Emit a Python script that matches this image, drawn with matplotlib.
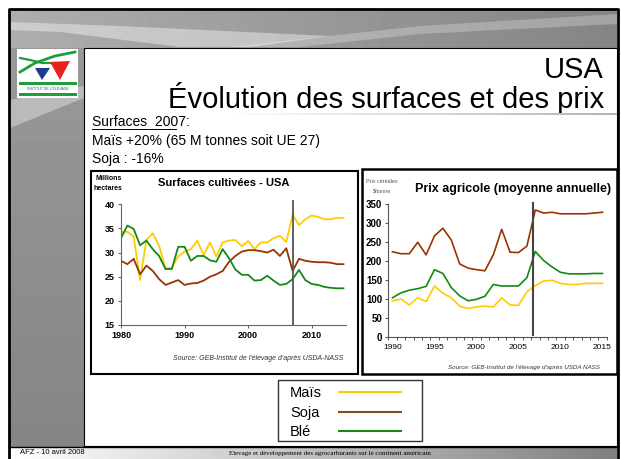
import matplotlib

matplotlib.use("Agg")
import matplotlib.pyplot as plt
import numpy as np
from matplotlib.patches import Polygon, Rectangle
from matplotlib.ticker import FixedLocator

plt.rcParams["font.family"] = ["Liberation Sans", "DejaVu Sans"]

W, H = 621, 459

# --- Surfaces cultivées (Mha) ---
area_years = list(range(1980, 2016))
area_mais = [34.3, 34.3, 33.3, 24.3, 32.6, 34.0, 31.4, 26.7, 26.9, 29.2,
             30.2, 30.7, 32.5, 29.5, 32.1, 29.2, 32.1, 32.5, 32.6, 31.3,
             32.4, 30.7, 32.1, 32.1, 33.0, 33.5, 32.2, 37.8, 35.7, 36.9,
             37.7, 37.4, 36.9, 36.9, 37.2, 37.2]
area_soja = [28.3, 27.6, 28.7, 25.5, 27.3, 26.2, 24.5, 23.3, 23.8, 24.3,
             23.3, 23.6, 23.7, 24.2, 25.0, 25.5, 26.2, 28.1, 29.3, 30.2,
             30.5, 30.5, 30.3, 30.0, 30.6, 29.3, 30.9, 26.2, 28.7, 28.3,
             28.1, 28.0, 28.0, 27.9, 27.6, 27.6]
area_ble = [33.0, 35.6, 34.9, 31.5, 32.5, 30.7, 29.3, 26.6, 26.6, 31.2,
            31.2, 28.3, 29.3, 29.3, 28.4, 28.1, 30.7, 28.8, 26.5, 25.4,
            25.4, 24.2, 24.3, 25.2, 24.2, 23.3, 23.5, 24.5, 26.4, 24.3,
            23.5, 23.3, 22.9, 22.7, 22.6, 22.6]

# --- Prix agricoles ($/t) ---
price_years = list(range(1990, 2016))
price_soja = [225, 220, 220, 250, 217, 267, 287, 256, 193, 182,
              178, 175, 217, 284, 224, 223, 240, 335, 327, 329,
              325, 325, 325, 325, 327, 329]
price_ble = [104, 117, 124, 128, 134, 178, 168, 131, 109, 96,
             100, 108, 139, 135, 135, 135, 157, 226, 202, 185,
             171, 167, 167, 167, 168, 168]
price_mais = [96, 101, 85, 104, 94, 135, 116, 104, 82, 76,
              80, 82, 80, 104, 85, 84, 120, 136, 148, 150,
              142, 139, 139, 142, 142, 142]

C_MAIS = "#FFCC00"
C_SOJA = "#993300"
C_BLE = "#138A13"


def box(x0, y0, x1, y1):
    return [x0 / W, 1 - y1 / H, (x1 - x0) / W, (y1 - y0) / H]


fig = plt.figure(figsize=(W / 100, H / 100), dpi=100)

# slide decoration
bg = fig.add_axes([0, 0, 1, 1])
bg.axis("off")
grad = np.linspace(0.68, 0.52, 200)[None, :] * np.ones((50, 1))
bg.imshow(grad, extent=(10, 617, 447, 10), cmap="gray", vmin=0, vmax=1,
          aspect="auto", zorder=0)
side = np.linspace(0.60, 0.52, 100)[:, None] * np.ones((1, 20))
bg.imshow(side, extent=(10, 84, 447, 48), cmap="gray", vmin=0, vmax=1,
          aspect="auto", zorder=0)
bg.add_patch(Polygon([(10, 22), (120, 26), (330, 36), (250, 47), (180, 47),
                      (60, 32), (10, 30)], closed=True, fc="white",
                     alpha=0.4, ec="none", zorder=1))
bg.add_patch(Polygon([(230, 47), (420, 26), (617, 14), (617, 24), (420, 34),
                      (300, 47)], closed=True, fc="white", alpha=0.25,
                     ec="none", zorder=1))
bg.add_patch(Polygon([(10, 100), (84, 86), (84, 98), (10, 128)], closed=True,
                     fc="white", alpha=0.35, ec="none", zorder=1))
bg.add_patch(Rectangle((84, 48), 533, 398, fc="white", ec="black", lw=0.8,
                       zorder=2))
foot = np.linspace(1.0, 0.5, 200)[None, :] * np.ones((5, 1))
bg.imshow(foot, extent=(10, 617, 459, 447), cmap="gray", vmin=0, vmax=1,
          aspect="auto", zorder=2)
bg.plot([9, 9, 618, 618], [459, 9, 9, 459], color="black", lw=2, zorder=3)
bg.plot([9, 618], [446.5, 446.5], color="black", lw=1, zorder=3)

# logo
bg.add_patch(Rectangle((17, 49), 61, 49, fc="white", ec="none", zorder=3))
bg.plot([20, 35, 55, 75], [72, 63, 56, 52], color="#1E9E3A", lw=2,
        zorder=4)
bg.plot([20, 30, 42, 52], [58, 60, 63, 63], color="#1E9E3A", lw=1.6,
        zorder=4)
bg.add_patch(Polygon([(35, 68), (50, 68), (42, 80)], closed=True,
                     fc="#1A3C8C", ec="none", zorder=4))
bg.add_patch(Polygon([(50, 62), (70, 61), (60, 80)], closed=True,
                     fc="#E8231E", ec="none", zorder=4))
bg.add_patch(Rectangle((19, 82), 58, 3, fc="#1E9E3A", ec="none", zorder=4))
bg.add_patch(Rectangle((19, 93), 58, 2.5, fc="#1E9E3A", ec="none", zorder=4))
bg.text(48, 89, "INSTITUT DE L'ÉLEVAGE", fontsize=2.6, ha="center",
        va="center", color="#2A5A9A", zorder=4)

bg.set_xlim(0, W)
bg.set_ylim(H, 0)

# titles and text
bg.text(603, 70, "USA", fontsize=21, ha="right", va="center", zorder=5)
bg.text(604, 98, "Évolution des surfaces et des prix", fontsize=21,
        ha="right", va="center", zorder=5)
line = np.linspace(1.0, 0.7, 200)[None, :] * np.ones((2, 1))
bg.imshow(line, extent=(225, 617, 115.5, 113.5), cmap="gray", vmin=0, vmax=1,
          aspect="auto", zorder=5)
bg.text(92, 122, "Surfaces  2007:", fontsize=10, va="center", zorder=5)
bg.plot([92, 176], [129, 129], color="black", lw=0.7, zorder=5)
bg.text(92, 141, "Maïs +20% (65 M tonnes soit UE 27)", fontsize=10,
        va="center", zorder=5)
bg.text(92, 159, "Soja : -16%", fontsize=10, va="center", zorder=5)

# chart frames
bg.add_patch(Rectangle((91, 170.5), 267, 203, fc="white", ec="black", lw=1.5,
                       zorder=5))
bg.add_patch(Rectangle((362, 168.5), 254.5, 205.5, fc="white", ec="black",
                       lw=1.8, zorder=5))

# footer
bg.text(20, 453, "AFZ - 10 avril 2008", fontsize=5.5, va="center", zorder=5)
bg.text(330, 453,
        "Elevage et développement des agrocarburants sur le continent américain",
        fontsize=5, va="center", ha="center", family="Liberation Serif",
        zorder=5)

# legend box
bg.add_patch(Rectangle((278, 380), 144, 61, fc="white", ec="#333333", lw=1,
                       zorder=5))
for label, col, yy in [("Maïs", C_MAIS, 393), ("Soja", "#8B4A1C", 413),
                       ("Blé", C_BLE, 432)]:
    bg.text(290, yy, label, fontsize=10.5, va="center", zorder=6)
    bg.plot([339, 401], [yy - 1, yy - 1], color=col, lw=1.5, zorder=6)

bg.set_xlim(0, W)
bg.set_ylim(H, 0)

# left chart: surfaces
ax1 = fig.add_axes(box(121, 204.3, 346, 325))
ax1.plot(area_years, area_mais, color=C_MAIS, lw=1.3)
ax1.plot(area_years, area_soja, color=C_SOJA, lw=1.3)
ax1.plot(area_years, area_ble, color=C_BLE, lw=1.3)
ax1.axvline(2007, color="#555555", lw=1.3, ymax=1.03, clip_on=False)
ax1.set_xlim(1980, 2015.4)
ax1.set_ylim(15, 40)
ax1.set_xticks([1980, 1990, 2000, 2010])
ax1.set_yticks(range(15, 41, 5))
for s in ["top", "right"]:
    ax1.spines[s].set_visible(False)
for s in ["left", "bottom"]:
    ax1.spines[s].set_color("#666666")
ax1.tick_params(length=2.5, width=0.8, color="#666666", labelsize=6.5, pad=2)
for t in ax1.get_xticklabels() + ax1.get_yticklabels():
    t.set_fontweight("bold")
ax1.patch.set_alpha(0)
fig.text(224 / W, 1 - 183 / H, "Surfaces cultivées - USA", fontsize=8,
         fontweight="bold", ha="center", va="center")
fig.text(95 / W, 1 - 178 / H, "Millions", fontsize=5, fontweight="bold",
         va="center")
fig.text(94 / W, 1 - 189 / H, "hectares", fontsize=5, fontweight="bold",
         va="center")
fig.text(343 / W, 1 - 359 / H,
         "Source: GEB-Institut de l'élevage d'après USDA-NASS", fontsize=5,
         style="italic", ha="right", va="center", color="#333333")

# right chart: prix
ax2 = fig.add_axes(box(388.3, 204.3, 606.7, 337.3))
ax2.plot(price_years, price_soja, color=C_SOJA, lw=1.2)
ax2.plot(price_years, price_ble, color=C_BLE, lw=1.2)
ax2.plot(price_years, price_mais, color=C_MAIS, lw=1.2)
ax2.axvline(2006.7, color="#444444", lw=1.5, ymin=0.02, ymax=1.01,
            clip_on=False)
ax2.set_xlim(1989.5, 2015.5)
ax2.set_ylim(0, 350)
ax2.set_xticks([1990, 1995, 2000, 2005, 2010, 2015])
ax2.xaxis.set_minor_locator(FixedLocator(np.arange(1989.5, 2016, 1)))
ax2.set_yticks(range(0, 351, 50))
for s in ["top", "right"]:
    ax2.spines[s].set_visible(False)
for s in ["left", "bottom"]:
    ax2.spines[s].set_color("#555555")
ax2.tick_params(axis="x", which="major", length=0, labelsize=6, pad=5)
ax2.tick_params(axis="x", which="minor", length=2.5, width=0.7,
                color="#555555")
ax2.tick_params(axis="y", length=2.5, width=0.8, color="#555555",
                labelsize=7, pad=2)
for t in ax2.get_yticklabels():
    t.set_fontweight("bold")
ax2.patch.set_alpha(0)
fig.text(513 / W, 1 - 189 / H, "Prix agricole (moyenne annuelle)",
         fontsize=9, fontweight="bold", ha="center", va="center")
fig.text(382 / W, 1 - 181 / H, "Prix céréales", fontsize=4, ha="center",
         va="center", color="#555555")
fig.text(382 / W, 1 - 191 / H, "$/tonne", fontsize=4, ha="center",
         va="center", color="#555555")
fig.text(600 / W, 1 - 367 / H,
         "Source: GEB-Institut de l'élevage d'après USDA NASS", fontsize=4.5,
         style="italic", ha="right", va="center", color="#333333")

fig.savefig("out.png", dpi=100)
